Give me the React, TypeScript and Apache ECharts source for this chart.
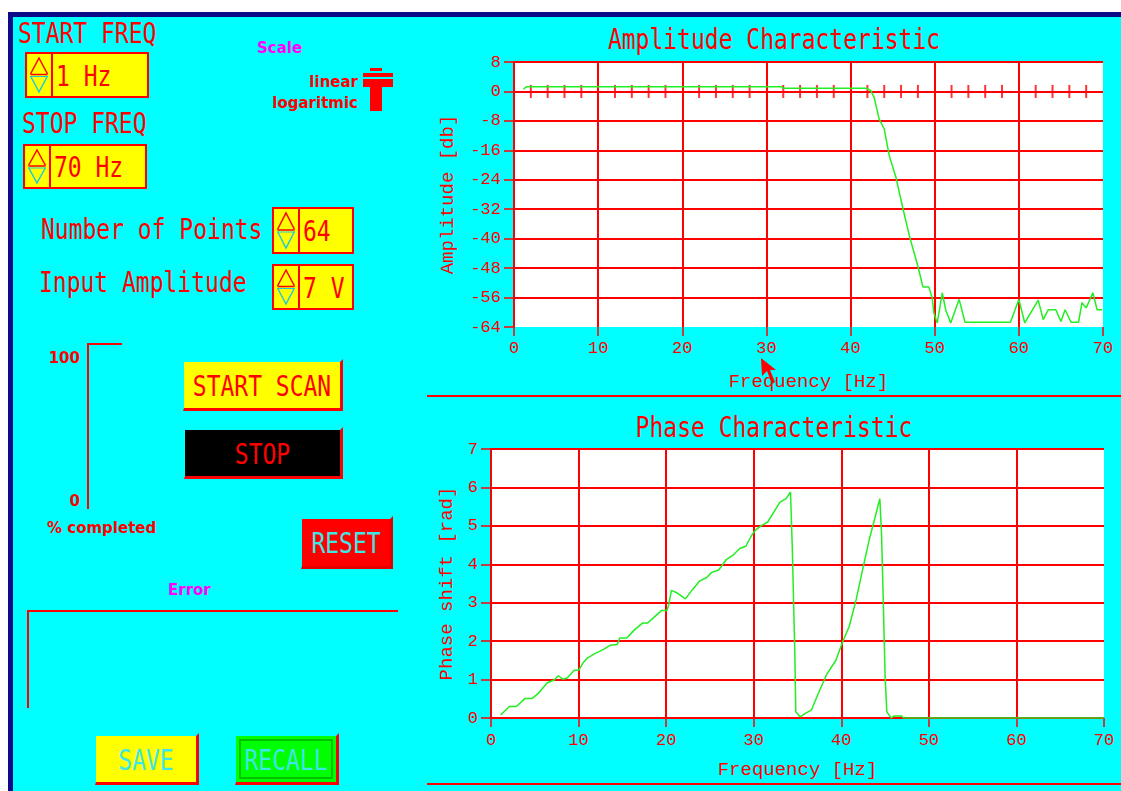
import React, { useEffect, useRef } from 'react';
import * as echarts from 'echarts';

// ---------- data ----------
const freqMin = 0;
const freqMax = 70;
const freqStep = 10;
const ampMin = -64;
const ampMax = 8;
const ampStep = 8;
const phaseMin = 0;
const phaseMax = 7;
const phaseStep = 1;

const ampFreq = [1.1, 1.5, 31.8, 32.0, 41.9, 42.4, 42.8, 43.4, 44.0, 44.6, 45.4, 46.2, 47.0, 48.0, 48.6, 49.3, 49.7, 49.9, 50.3, 50.5, 50.9, 51.3, 51.9, 52.9, 53.6, 59.0, 60.0, 60.7, 62.3, 62.9, 63.5, 64.4, 65.0, 65.5, 66.2, 67.1, 67.5, 68.0, 68.8, 69.3, 69.9];
const ampDb = [0.6, 1.3, 1.3, 0.9, 0.9, 0.2, -1.6, -7.5, -10.2, -17.5, -23.4, -31.6, -39.3, -47.5, -53.1, -53.1, -56.1, -60.2, -62.9, -60.2, -54.7, -59.3, -62.9, -56.5, -62.7, -62.7, -56.5, -62.9, -56.7, -62.0, -59.3, -59.3, -62.5, -59.3, -62.7, -62.7, -57.4, -58.8, -54.7, -59.3, -59.3];

const phaseFreq = [1.1, 2.1, 2.9, 3.9, 4.7, 5.4, 6.4, 7.2, 7.7, 8.2, 8.7, 9.5, 10.0, 10.5, 11.0, 11.8, 12.8, 13.6, 14.4, 14.7, 15.5, 16.4, 17.3, 17.9, 18.5, 19.5, 20.1, 20.3, 20.6, 21.2, 22.2, 23.0, 23.8, 24.6, 25.2, 26.0, 26.9, 27.6, 28.4, 29.1, 29.7, 30.2, 30.9, 31.6, 32.3, 33.0, 33.7, 34.2, 34.4, 34.7, 34.8, 35.3, 35.9, 36.6, 37.3, 38.3, 39.4, 40.1, 40.9, 41.7, 42.4, 43.2, 43.7, 44.4, 44.6, 44.8, 45.0, 45.2, 45.7, 46.0, 46.9, 47.1, 70];
const phaseRad = [0.08, 0.30, 0.30, 0.51, 0.51, 0.64, 0.91, 0.99, 1.10, 1.01, 1.04, 1.24, 1.24, 1.43, 1.56, 1.67, 1.78, 1.89, 1.91, 2.08, 2.08, 2.30, 2.47, 2.47, 2.60, 2.80, 2.80, 2.95, 3.32, 3.26, 3.10, 3.34, 3.56, 3.65, 3.79, 3.85, 4.13, 4.23, 4.41, 4.47, 4.73, 4.89, 5.01, 5.10, 5.36, 5.62, 5.71, 5.88, 4.47, 1.64, 0.16, 0.03, 0.12, 0.21, 0.60, 1.12, 1.51, 1.95, 2.38, 3.08, 3.82, 4.65, 5.08, 5.71, 4.78, 2.99, 1.12, 0.16, 0.00, 0.05, 0.05, 0.00, 0.00];

const zeroLineTickFreq = [2, 4, 6, 8, 12, 14, 16, 18, 22, 24, 26, 28, 32, 34, 36, 38, 42, 44, 46, 48, 52, 54, 56, 58, 62, 64, 66, 68];

const startFreqText = '1 Hz';
const stopFreqText = '70 Hz';
const pointsText = '64';
const amplitudeText = '7 V';

// ---------- styles ----------
const RED = '#ff0000';
const CYAN = '#00ffff';
const YELLOW = '#ffff00';
const GREEN_LINE = '#22ee22';
const BTN_TEXT = '#3ee6e6';
const MONO = '"DejaVu Sans Mono", monospace';
const SERIF_MONO = '"Liberation Mono", monospace';
const BOLD_SANS = '"DejaVu Sans", sans-serif';

function txt(text: string, x: number, y: number, o: any = {}) {
  const align = o.align ?? 'left';
  return {
    type: 'text',
    x,
    y,
    z: o.z ?? 20,
    scaleX: o.sx ?? 1,
    scaleY: o.sy ?? 1,
    silent: true,
    style: {
      text,
      x: 0,
      y: 0,
      fill: o.color ?? RED,
      fontFamily: o.family ?? MONO,
      fontSize: o.size ?? 23,
      fontWeight: o.weight ?? 'normal',
      align,
      textAlign: align,
      verticalAlign: 'middle',
      textVerticalAlign: 'middle',
    },
  };
}

function big(text: string, x: number, y: number, o: any = {}) {
  return txt(text, x, y, { size: 23, sy: 1.25, ...o });
}

function small(text: string, x: number, y: number, o: any = {}) {
  return txt(text, x, y, { size: 15, family: BOLD_SANS, weight: 'bold', ...o });
}

function rect(x: number, y: number, w: number, h: number, style: any, z = 10) {
  return { type: 'rect', z, silent: true, shape: { x, y, width: w, height: h }, style };
}

function line(x1: number, y1: number, x2: number, y2: number, stroke = RED, lw = 2, z = 10) {
  return { type: 'line', z, silent: true, shape: { x1, y1, x2, y2 }, style: { stroke, lineWidth: lw } };
}

function spinBox(x: number, y: number, w: number, h: number, value: string) {
  const aw = 26;
  const cx = x + aw / 2;
  const mid = y + h / 2;
  const hw = 8.5;
  return [
    rect(x, y, w, h, { fill: YELLOW, stroke: RED, lineWidth: 2 }),
    line(x + aw, y, x + aw, y + h, RED, 2, 11),
    {
      type: 'polyline', z: 11, silent: true,
      shape: { points: [[cx - hw, mid - 1], [cx, y + 5], [cx + hw, mid - 1]] },
      style: { stroke: RED, lineWidth: 1.5, fill: null },
    },
    {
      type: 'polyline', z: 11, silent: true,
      shape: { points: [[cx - hw, mid + 1], [cx, y + h - 5], [cx + hw, mid + 1]] },
      style: { stroke: '#22c8d8', lineWidth: 1.5, fill: null },
    },
    line(cx - hw, mid - 0.5, cx + hw, mid - 0.5, RED, 1.5, 12),
    line(cx - hw, mid + 1.5, cx + hw, mid + 1.5, '#22c8d8', 1, 12),
    big(value, x + aw + 4, mid + 1),
  ];
}

function button(x: number, y: number, w: number, h: number, face: string, label: string, color: string, shadow = RED) {
  const els: any[] = [
    {
      type: 'polygon', z: 10, silent: true,
      shape: { points: [[x + w, y], [x + w + 3, y - 3], [x + w + 3, y + h + 3], [x - 1, y + h + 3], [x, y + h], [x + w, y + h]] },
      style: { fill: shadow },
    },
    rect(x, y, w, h, { fill: face }, 11),
  ];
  return els.concat([big(label, x + w / 2, y + h / 2 + 1, { align: 'center', color })]);
}

function buildGraphics() {
  const g: any[] = [];
  // page margins & frame
  g.push(rect(0, 0, 1121, 12, { fill: '#ffffff' }, 1));
  g.push(rect(0, 0, 8, 791, { fill: '#ffffff' }, 1));
  g.push(rect(8, 12, 1113, 5, { fill: '#0b0b8a' }, 2));
  g.push(rect(8, 12, 5, 779, { fill: '#0b0b8a' }, 2));

  // left panel labels
  g.push(big('START FREQ', 18, 33));
  g.push(...spinBox(26, 53, 122, 44, startFreqText));
  g.push(big('STOP FREQ', 22, 123));
  g.push(...spinBox(24, 145, 122, 43, stopFreqText));
  g.push(big('Number of Points', 41, 229));
  g.push(...spinBox(273, 208, 80, 45, pointsText));
  g.push(big('Input Amplitude', 39, 282));
  g.push(...spinBox(273, 265, 80, 44, amplitudeText));

  // scale switch
  g.push(small('Scale', 257, 48, { color: '#ff00ff' }));
  g.push(small('linear', 358, 82, { align: 'right' }));
  g.push(small('logaritmic', 358, 103, { align: 'right' }));
  g.push(rect(370, 68, 12, 3, { fill: RED }));
  g.push(rect(363, 73, 30, 4, { fill: RED }));
  g.push(rect(363, 79, 30, 8, { fill: RED }));
  g.push(rect(370, 86, 12, 25, { fill: RED }));

  // progress gauge
  g.push(line(88, 344, 88, 509));
  g.push(line(87, 344, 122, 344));
  g.push(small('100', 80, 358, { align: 'right' }));
  g.push(small('0', 80, 501, { align: 'right' }));
  g.push(small('% completed', 47, 528));

  // buttons
  g.push(...button(184, 362, 156, 46, YELLOW, 'START SCAN', RED));
  g.push(...button(185, 430, 155, 46, '#000000', 'STOP', RED));
  g.push(...button(302, 519, 88, 47, RED, 'RESET', BTN_TEXT, '#e00000'));
  g.push(...button(96, 736, 100, 46, YELLOW, 'SAVE', BTN_TEXT));
  g.push(...button(236, 736, 100, 46, '#00ff00', 'RECALL', BTN_TEXT));
  g.push(rect(240, 740, 92, 38, { fill: null, stroke: '#00b000', lineWidth: 1.5 }, 12));

  // error box
  g.push(small('Error', 168, 590, { color: '#ff00ff' }));
  g.push(line(28, 611, 398, 611));
  g.push(line(28, 610, 28, 708));

  // separators
  g.push(line(427, 396, 1121, 396));
  g.push(line(427, 784, 1121, 784));

  // plot titles
  g.push(txt('Amplitude Characteristic', 774, 39, { align: 'center', size: 23, sy: 1.2 }));
  g.push(txt('Phase Characteristic', 774, 427, { align: 'center', size: 23, sy: 1.2 }));

  // mouse cursor
  g.push({
    type: 'polygon', z: 100, silent: true,
    shape: { points: [[761, 358], [762, 376], [767, 371], [772, 384], [775, 382], [770, 370], [776, 370]] },
    style: { fill: RED },
  });
  return g;
}

const axisLabelStyle = { color: RED, fontFamily: SERIF_MONO, fontSize: 17 };
const axisNameStyle = { color: RED, fontFamily: SERIF_MONO, fontSize: 19 };
const gridLine = { color: RED, width: 2 };

export default function App() {
  const ref = useRef<HTMLDivElement>(null);
  useEffect(() => {
    if (!ref.current) return;
    const chart = echarts.init(ref.current, null, { renderer: 'svg' });
    const option: any = {
      animation: false,
      backgroundColor: CYAN,
      grid: [
        { left: 514, top: 62, width: 589, height: 265, show: true, backgroundColor: '#ffffff', borderWidth: 0 },
        { left: 491, top: 449, width: 613, height: 269, show: true, backgroundColor: '#ffffff', borderWidth: 0 },
      ],
      xAxis: [
        {
          gridIndex: 0, type: 'value', min: freqMin, max: freqMax, interval: freqStep, position: 'bottom',
          axisLine: { show: false, onZero: false },
          axisTick: { show: true, length: 9, lineStyle: { color: RED, width: 1.5 } },
          axisLabel: { ...axisLabelStyle, margin: 13 },
          splitLine: { show: true, showMaxLine: false, lineStyle: gridLine },
          name: 'Frequency [Hz]', nameLocation: 'middle', nameGap: 45, nameTextStyle: axisNameStyle,
        },
        {
          gridIndex: 1, type: 'value', min: freqMin, max: freqMax, interval: freqStep, position: 'bottom',
          axisLine: { show: false, onZero: false },
          axisTick: { show: true, length: 9, lineStyle: { color: RED, width: 1.5 } },
          axisLabel: { ...axisLabelStyle, margin: 14 },
          splitLine: { show: true, showMaxLine: false, lineStyle: gridLine },
          name: 'Frequency [Hz]', nameLocation: 'middle', nameGap: 42, nameTextStyle: axisNameStyle,
        },
      ],
      yAxis: [
        {
          gridIndex: 0, type: 'value', min: ampMin, max: ampMax, interval: ampStep,
          axisLine: { show: true, onZero: false, lineStyle: { color: RED, width: 2 } },
          axisTick: { show: true, length: 10, lineStyle: { color: RED, width: 1.5 } },
          axisLabel: { ...axisLabelStyle, margin: 13 },
          splitLine: { show: true, showMinLine: false, lineStyle: gridLine },
          name: 'Amplitude [db]', nameLocation: 'middle', nameGap: 57, nameTextStyle: axisNameStyle,
        },
        {
          gridIndex: 1, type: 'value', min: phaseMin, max: phaseMax, interval: phaseStep,
          axisLine: { show: true, onZero: false, lineStyle: { color: RED, width: 2 } },
          axisTick: { show: true, length: 10, lineStyle: { color: RED, width: 1.5 } },
          axisLabel: { ...axisLabelStyle, margin: 13 },
          splitLine: { show: true, lineStyle: gridLine },
          name: 'Phase shift [rad]', nameLocation: 'middle', nameGap: 34, nameTextStyle: axisNameStyle,
        },
      ],
      series: [
        {
          type: 'scatter', xAxisIndex: 0, yAxisIndex: 0, silent: true,
          symbol: 'rect', symbolSize: [2, 13],
          itemStyle: { color: RED },
          data: zeroLineTickFreq.map((f) => [f, 0]),
        },
        {
          type: 'line', xAxisIndex: 0, yAxisIndex: 0, silent: true,
          symbol: 'none', showSymbol: false,
          lineStyle: { color: GREEN_LINE, width: 1.5 },
          data: ampFreq.map((f, i) => [f, ampDb[i]]),
        },
        {
          type: 'line', xAxisIndex: 1, yAxisIndex: 1, silent: true,
          symbol: 'none', showSymbol: false,
          lineStyle: { color: GREEN_LINE, width: 1.5 },
          data: phaseFreq.map((f, i) => [f, phaseRad[i]]),
        },
      ],
      graphic: { elements: buildGraphics() },
    };
    chart.setOption(option);
    return () => chart.dispose();
  }, []);
  return (
    <div
      ref={ref}
      style={{ position: 'absolute', left: 0, top: 0, width: 1121, height: 791 }}
    />
  );
}
